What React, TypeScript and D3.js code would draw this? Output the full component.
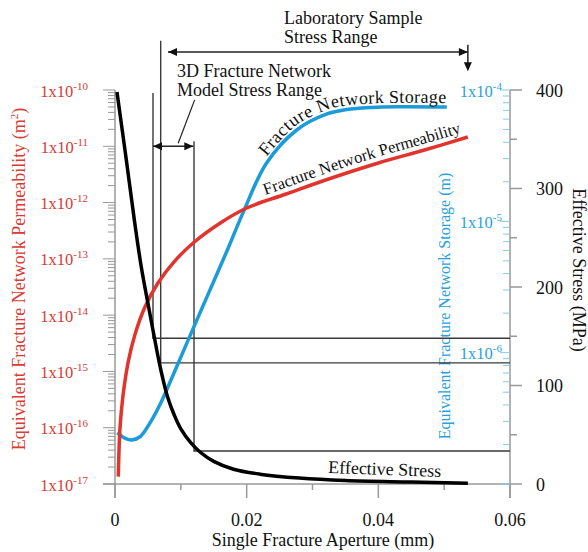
import React from 'react';
import * as d3 from 'd3';

// aperture in mm
const apertureTicks = [0, 0.02, 0.04, 0.06];
const apertureMinor = [0.01, 0.03, 0.05];
const stressTicks = [0, 100, 200, 300, 400];
const stressMinor = [50, 150, 250, 350];
const permLabels = [-17, -16, -15, -14, -13, -12, -11, -10];
const storageLabels = [-6, -5, -4];

// Effective stress (MPa) vs aperture
const stressCurve: [number, number][] = [
  [0.0003, 398], [0.0017, 330], [0.003, 265], [0.004, 220], [0.0051, 180],
  [0.006, 148], [0.0067, 124], [0.0073, 106], [0.008, 88], [0.009, 70],
  [0.01, 56], [0.0115, 42], [0.013, 32], [0.015, 23], [0.018, 15],
  [0.022, 10], [0.028, 6], [0.035, 3.5], [0.045, 2], [0.0536, 0.8],
];

// Equivalent fracture network permeability (m^2)
const permCurve: [number, number][] = [
  [0.0005, 1.35e-17], [0.00076, 9.9e-17], [0.0012, 3.59e-16], [0.002, 1.46e-15],
  [0.003, 4.38e-15], [0.0045, 1.35e-14], [0.0065, 3.68e-14], [0.009, 8.94e-14],
  [0.012, 1.97e-13], [0.016, 4.34e-13], [0.02, 8.0e-13], [0.026, 1.42e-12],
  [0.032, 2.52e-12], [0.04, 5.05e-12], [0.047, 8.59e-12], [0.0536, 1.46e-11],
];

// Equivalent fracture network storage (m)
const storageCurve: [number, number][] = [
  [0.00035, 2.46e-7], [0.0013, 2.26e-7], [0.0025, 2.16e-7], [0.0038, 2.29e-7],
  [0.0053, 2.91e-7], [0.0068, 3.99e-7], [0.0085, 6.19e-7], [0.01165, 1.44e-6],
  [0.0144, 2.98e-6], [0.0172, 6.27e-6], [0.0195, 1.18e-5], [0.023, 2.77e-5],
  [0.0276, 4.96e-5], [0.0322, 6.57e-5], [0.0352, 7.1e-5], [0.039, 7.36e-5],
  [0.0428, 7.45e-5], [0.0504, 7.42e-5],
];

// stress range markers: aperture, stress at corner, stress at top of vertical
const rangeMarkers = [
  { aperture: 0.00577, stress: 148, top: 397 },
  { aperture: 0.00694, stress: 123, top: 450 },
  { aperture: 0.012, stress: 33.5, top: 348 },
];

const labRange = { from: 0.00805, to: 0.0536, stress: 438.6 };
const modelRange = { from: 0.00577, to: 0.0119, stress: 343 };

const RED = '#e0342c';
const RED_TEXT = '#d93a31';
const BLUE = '#1b9bd9';
const BLUE_TEXT = '#29a1dc';
const BLUE_TICK = '#86c9ea';
const GRAY = '#999999';
const DARK = '#3a3a3a';
const FONT = '"Liberation Serif", "Times New Roman", serif';

const x = d3.scaleLinear().domain([0, 0.06]).range([115, 510]);
const yPerm = d3.scaleLog().domain([1e-17, 1e-10]).range([484, 90]);
const yStor = d3.scaleLog().domain([1e-7, 1e-4]).range([484, 90]);
const yStress = d3.scaleLinear().domain([0, 400]).range([484, 90]);

const arrow = (tx: number, ty: number, dir: 'l' | 'r' | 'd', len = 9, hw = 4) => {
  if (dir === 'l') return `M${tx},${ty}L${tx + len},${ty - hw}L${tx + len},${ty + hw}Z`;
  if (dir === 'r') return `M${tx},${ty}L${tx - len},${ty - hw}L${tx - len},${ty + hw}Z`;
  return `M${tx},${ty}L${tx - hw},${ty - len}L${tx + hw},${ty - len}Z`;
};

export default function App() {
  const curve = d3.curveCatmullRom.alpha(0.5);
  const stressLine = d3.line<[number, number]>().x(d => x(d[0])).y(d => yStress(d[1])).curve(curve);
  const permLine = d3.line<[number, number]>().x(d => x(d[0])).y(d => yPerm(d[1])).curve(curve);
  const storLine = d3.line<[number, number]>().x(d => x(d[0])).y(d => yStor(d[1])).curve(curve);

  const permLabelPath = permLine(permCurve.filter(d => d[0] >= 0.02)) || '';
  const storLabelPath = storLine(storageCurve.filter(d => d[0] >= 0.023)) || '';

  const permTicks = yPerm.ticks();
  const storTicks = yStor.ticks();
  const isDecade = (v: number) => Math.abs(Math.log10(v) - Math.round(Math.log10(v))) < 1e-6;

  const x0 = x(0), x1 = x(0.06), yb = yStress(0), yt = yStress(400);

  return (
    <svg width={588} height={552} style={{ position: 'absolute', left: 0, top: 0, background: '#fff', fontFamily: FONT }}>
      <defs>
        <path id="permLabelPath" d={permLabelPath} />
        <path id="storLabelPath" d={storLabelPath} />
      </defs>

      {/* left permeability axis */}
      <line x1={x0} x2={x0} y1={yt} y2={yb + 14} stroke={GRAY} strokeWidth={1.5} />
      {permTicks.map((t, i) => (
        <line key={i} x1={x0 - (isDecade(t) ? 12 : 7)} x2={x0} y1={yPerm(t)} y2={yPerm(t)} stroke={GRAY} strokeWidth={1} />
      ))}
      {permLabels.map(k => (
        <text key={k} x={88} y={yPerm(Math.pow(10, k)) + 6.5} textAnchor="end" fill={RED_TEXT} fontSize={16.5}>
          1x10<tspan dy={-7} fontSize={11}>{`${k}`}</tspan>
        </text>
      ))}
      <text transform={`translate(25,${279}) rotate(-90)`} textAnchor="middle" fill={RED_TEXT} fontSize={18}>
        Equivalent Fracture Network Permeability (m<tspan dy={-7} fontSize={11}>2</tspan><tspan dy={7}>)</tspan>
      </text>

      {/* x axis */}
      <line x1={x0 - 12} x2={x1} y1={yb} y2={yb} stroke={GRAY} strokeWidth={1.5} />
      {apertureTicks.map(t => (
        <line key={t} x1={x(t)} x2={x(t)} y1={yb} y2={yb + 14} stroke={GRAY} strokeWidth={1.5} />
      ))}
      {apertureMinor.map(t => (
        <line key={t} x1={x(t)} x2={x(t)} y1={yb} y2={yb + 6} stroke={GRAY} strokeWidth={1.5} />
      ))}
      {apertureTicks.map(t => (
        <text key={t} x={x(t)} y={526} textAnchor="middle" fontSize={18} fill="#111">{t === 0 ? '0' : t.toFixed(2)}</text>
      ))}
      <text x={323} y={546} textAnchor="middle" fontSize={18} fill="#111">Single Fracture Aperture (mm)</text>

      {/* right axes */}
      <line x1={x1} x2={x1} y1={yt} y2={yb + 14} stroke={GRAY} strokeWidth={1.5} />
      {storTicks.map((t, i) => (
        <line key={i} x1={x1 - (isDecade(t) ? 10 : 7)} x2={x1} y1={yStor(t)} y2={yStor(t)} stroke={BLUE_TICK} strokeWidth={1} />
      ))}
      {stressTicks.map(t => (
        <line key={t} x1={x1} x2={x1 + 12} y1={yStress(t)} y2={yStress(t)} stroke={GRAY} strokeWidth={1.5} />
      ))}
      {stressMinor.map(t => (
        <line key={t} x1={x1} x2={x1 + 7} y1={yStress(t)} y2={yStress(t)} stroke={GRAY} strokeWidth={1.5} />
      ))}
      {stressTicks.map(t => (
        <text key={t} x={536} y={yStress(t) + 6.5} fontSize={18} fill="#111">{t}</text>
      ))}
      {storageLabels.map(k => (
        <text key={k} x={502} y={yStor(Math.pow(10, k)) + 6.5} textAnchor="end" fill={BLUE_TEXT} fontSize={16.5}>
          1x10<tspan dy={-7} fontSize={11}>{`${k}`}</tspan>
        </text>
      ))}
      <text transform={`translate(573,270) rotate(90)`} textAnchor="middle" fontSize={18} fill="#111">Effective Stress (MPa)</text>
      <text transform={`translate(450,306) rotate(-90)`} textAnchor="middle" fontSize={16} fill={BLUE_TEXT}>
        Equivalent Fracture Network Storage (m)
      </text>

      {/* stress range markers */}
      {rangeMarkers.map((m, i) => (
        <path key={i}
          d={`M${x(m.aperture)},${yStress(m.top)}V${yStress(m.stress)}H${x1}`}
          fill="none" stroke={DARK} strokeWidth={1.4} />
      ))}

      {/* laboratory sample stress range arrow */}
      <line x1={x(labRange.from)} x2={x(labRange.to)} y1={yStress(labRange.stress)} y2={yStress(labRange.stress)} stroke="#222" strokeWidth={1.5} />
      <path d={arrow(x(labRange.from), yStress(labRange.stress), 'l')} fill="#111" />
      <path d={arrow(x(labRange.to), yStress(labRange.stress), 'r')} fill="#111" />
      <line x1={x(labRange.to)} x2={x(labRange.to)} y1={yStress(446)} y2={yStress(421)} stroke="#222" strokeWidth={1.5} />
      <path d={arrow(x(labRange.to), yStress(419), 'd')} fill="#111" />
      <text x={284} y={24} fontSize={18} fill="#111">Laboratory Sample</text>
      <text x={284} y={43} fontSize={18} fill="#111">Stress Range</text>

      {/* 3D model stress range arrow */}
      <line x1={x(modelRange.from)} x2={x(modelRange.to)} y1={yStress(modelRange.stress)} y2={yStress(modelRange.stress)} stroke="#222" strokeWidth={1.5} />
      <path d={arrow(x(modelRange.from), yStress(modelRange.stress), 'l')} fill="#111" />
      <path d={arrow(x(modelRange.to), yStress(modelRange.stress), 'r')} fill="#111" />
      <line x1={x(0.0096)} y1={yStress(346)} x2={x(0.0121)} y2={yStress(390)} stroke="#222" strokeWidth={1.2} />
      <text x={177} y={77} fontSize={18} fill="#111">3D Fracture Network</text>
      <text x={177} y={96} fontSize={18} fill="#111">Model Stress Range</text>

      {/* curves */}
      <path d={storLine(storageCurve) || ''} fill="none" stroke={BLUE} strokeWidth={3.5} />
      <path d={permLine(permCurve) || ''} fill="none" stroke={RED} strokeWidth={3.5} />
      <path d={stressLine(stressCurve) || ''} fill="none" stroke="#000" strokeWidth={3.5} />

      <text fontSize={16.5} fill="#111" dy={-6}>
        <textPath href="#permLabelPath" startOffset={22}>Fracture Network Permeability</textPath>
      </text>
      <text fontSize={18} fill="#111" dy={-4} letterSpacing={0.3}>
        <textPath href="#storLabelPath" startOffset={5}>Fracture Network Storage</textPath>
      </text>
      <text x={328} y={473} fontSize={18} fill="#111" transform="rotate(2,328,473)">Effective Stress</text>
    </svg>
  );
}
